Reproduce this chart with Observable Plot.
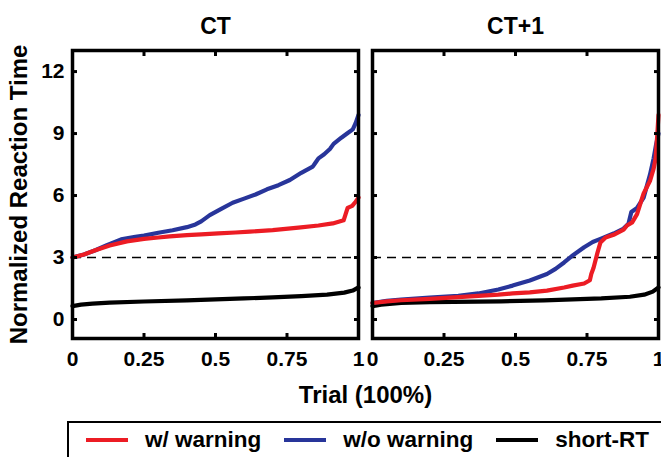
<!DOCTYPE html>
<html><head><meta charset="utf-8">
<script src="https://cdn.jsdelivr.net/npm/d3@7"></script>
<script src="https://cdn.jsdelivr.net/npm/@observablehq/plot@0.6"></script>
<style>
body{margin:0;background:#fff;font-family:"Liberation Sans",Arial,sans-serif;font-weight:bold;}
#chart{position:absolute;left:0;top:0;}
#legend{position:absolute;left:67px;top:421px;width:640px;height:34px;border:2px solid #000;display:flex;align-items:center;font-size:22.5px;padding-left:17px;color:#000;background:#fff;}
.item{display:flex;align-items:center;margin-right:23px;white-space:nowrap}
.sw{width:42px;height:4px;margin-right:17px}
</style></head><body>
<div id="chart"></div><div id="legend"></div>
<script>
const panels = ["CT", "CT+1"];
const seriesNames = ["w/ warning", "w/o warning", "short-RT"];
const seriesColors = ["#ec1c24", "#28359a", "#000000"];
const yTicks = [0, 3, 6, 9, 12];
const xTicks = [0, 0.25, 0.5, 0.75, 1];
const xTickLabels = ["0", "0.25", "0.5", "0.75", "1"];
const threshold = 3;

// CT panel: [trial fraction, normalized RT]
const ctWarn = [[0,3.0],[0.04,3.15],[0.08,3.35],[0.13,3.58],[0.19,3.78],[0.25,3.9],[0.3,3.97],[0.34,4.02],[0.4,4.08],[0.45,4.12],[0.51,4.17],[0.57,4.21],[0.62,4.25],[0.7,4.33],[0.79,4.45],[0.86,4.55],[0.91,4.65],[0.948,4.8],[0.955,5.1],[0.962,5.4],[0.978,5.5],[0.99,5.7],[1.0,5.9]];
const ctNoWarn = [[0,3.0],[0.04,3.15],[0.08,3.35],[0.12,3.6],[0.17,3.88],[0.22,4.0],[0.25,4.06],[0.3,4.2],[0.35,4.32],[0.4,4.47],[0.43,4.6],[0.45,4.75],[0.48,5.05],[0.52,5.35],[0.56,5.65],[0.6,5.85],[0.64,6.05],[0.68,6.3],[0.72,6.5],[0.76,6.75],[0.8,7.1],[0.84,7.4],[0.85,7.6],[0.86,7.8],[0.88,8.0],[0.9,8.25],[0.913,8.5],[0.94,8.8],[0.96,9.0],[0.98,9.2],[0.99,9.5],[1.0,9.9]];
const ctShort = [[0,0.65],[0.03,0.72],[0.07,0.77],[0.13,0.82],[0.25,0.87],[0.4,0.93],[0.5,0.97],[0.6,1.02],[0.7,1.07],[0.8,1.13],[0.89,1.2],[0.95,1.3],[0.98,1.4],[1.0,1.55]];

// CT+1 panel
const ct1Warn = [[0,0.8],[0.05,0.88],[0.1,0.93],[0.2,1.0],[0.3,1.08],[0.37,1.14],[0.44,1.2],[0.49,1.26],[0.55,1.31],[0.61,1.4],[0.67,1.55],[0.7,1.64],[0.74,1.74],[0.76,1.9],[0.765,2.2],[0.773,2.5],[0.786,3.2],[0.797,3.73],[0.815,3.97],[0.843,4.1],[0.878,4.35],[0.89,4.55],[0.908,4.7],[0.925,5.1],[0.948,6.1],[0.97,6.7],[0.983,7.3],[0.99,7.8],[0.996,9.0],[1.0,9.9]];
const ct1NoWarn = [[0,0.8],[0.05,0.9],[0.1,0.96],[0.2,1.06],[0.3,1.15],[0.37,1.26],[0.44,1.45],[0.49,1.64],[0.55,1.89],[0.61,2.2],[0.64,2.45],[0.67,2.76],[0.7,3.1],[0.74,3.5],[0.77,3.75],[0.797,3.9],[0.843,4.16],[0.878,4.4],[0.895,4.64],[0.905,5.2],[0.925,5.4],[0.948,5.9],[0.97,7.0],[0.983,7.8],[0.992,8.5],[1.0,9.0]];
const ct1Short = [[0,0.65],[0.03,0.72],[0.1,0.8],[0.2,0.84],[0.45,0.88],[0.6,0.93],[0.8,1.02],[0.9,1.1],[0.95,1.2],[0.98,1.35],[1.0,1.55]];

const rows = [];
function add(panel, series, pts) { for (const [x, y] of pts) rows.push({panel, series, x, y}); }
add("CT", "short-RT", ctShort);
add("CT+1", "short-RT", ct1Short);
add("CT", "w/o warning", ctNoWarn);
add("CT+1", "w/o warning", ct1NoWarn);
add("CT", "w/ warning", ctWarn);
add("CT+1", "w/ warning", ct1Warn);

const tickOpts = {tickSize: -5, strokeWidth: 3, fill: "none", label: null, facetAnchor: null};

const chart = Plot.plot({
  width: 661, height: 415,
  marginTop: 50, marginBottom: 77, marginLeft: 72, marginRight: 3,
  style: {fontFamily: '"Liberation Sans", Arial, sans-serif', fontWeight: "bold", background: "white", color: "black", overflow: "visible"},
  fx: {domain: panels, paddingInner: 14 / 300, paddingOuter: 0, axis: null},
  x: {domain: [0, 1], axis: null},
  y: {domain: [-0.92, 13.02], axis: null},
  color: {domain: seriesNames, range: seriesColors},
  marks: [
    Plot.ruleY([threshold], {stroke: "black", strokeWidth: 1.5, strokeDasharray: "9,6"}),
    Plot.line(rows, {fx: "panel", x: "x", y: "y", z: "series", stroke: "series", strokeWidth: 4.2}),
    Plot.frame({stroke: "black", strokeWidth: 3.5}),
    Plot.axisY(yTicks, {anchor: "left", ...tickOpts}),
    Plot.axisY(yTicks, {anchor: "right", ...tickOpts}),
    Plot.axisX(xTicks, {anchor: "top", ...tickOpts}),
    Plot.axisX(xTicks, {anchor: "bottom", ...tickOpts}),
    Plot.axisY(yTicks, {anchor: "left", tickSize: 0, tickPadding: 8, fontSize: 21, label: null}),
    Plot.axisX(xTicks, {anchor: "bottom", tickSize: 0, tickPadding: 13, fontSize: 21, label: null, tickFormat: (d) => xTickLabels[xTicks.indexOf(d)]}),
    Plot.axisY([], {anchor: "left", tickSize: 0, fontSize: 24, label: "Normalized Reaction Time", labelAnchor: "center", labelArrow: "none", labelOffset: 63}),
    Plot.axisX([], {anchor: "bottom", tickSize: 0, fontSize: 24, label: "Trial (100%)", labelAnchor: "center", labelArrow: "none", labelOffset: 64}),
    Plot.axisFx({anchor: "top", tickSize: 0, tickPadding: 17, fontSize: 23, label: null})
  ]
});
document.getElementById("chart").appendChild(chart);

const legend = document.getElementById("legend");
seriesNames.forEach((name, i) => {
  const item = document.createElement("div");
  item.className = "item";
  const sw = document.createElement("span");
  sw.className = "sw";
  sw.style.background = seriesColors[i];
  const label = document.createElement("span");
  label.textContent = name;
  item.appendChild(sw);
  item.appendChild(label);
  legend.appendChild(item);
});
</script>
</body></html>
